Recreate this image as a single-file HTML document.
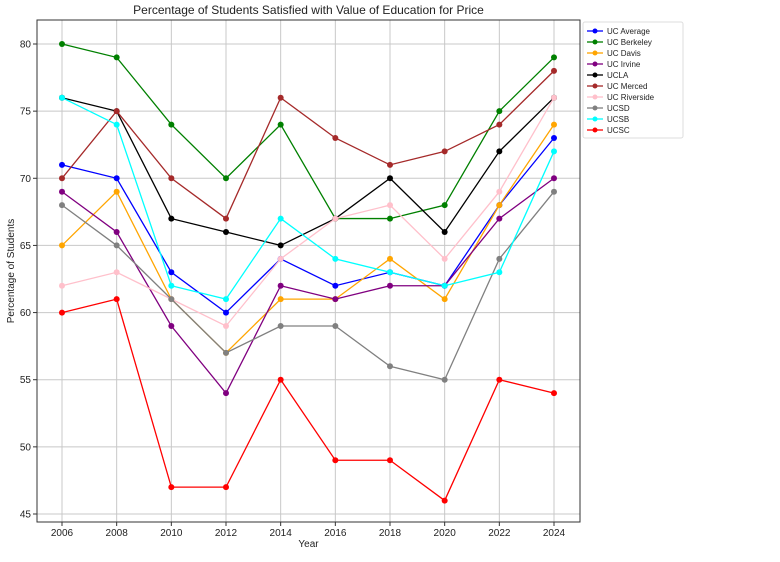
<!DOCTYPE html>
<html><head><meta charset="utf-8"><style>
body{margin:0;background:#fff;font-family:"Liberation Sans",sans-serif;}
svg text{font-family:"Liberation Sans",sans-serif;fill:#222;}
</style></head><body>
<svg id="chart" width="780" height="557"></svg>
<script>
const years=[2006,2008,2010,2012,2014,2016,2018,2020,2022,2024];
const yTicks=[45,50,55,60,65,70,75,80];
const seriesNames=["UC Average","UC Berkeley","UC Davis","UC Irvine","UCLA","UC Merced","UC Riverside","UCSD","UCSB","UCSC"];
const seriesColors=["#0000ff","#008000","#ffa500","#800080","#000000","#a52a2a","#ffc0cb","#808080","#00ffff","#ff0000"];
const ucAverage=[71,70,63,60,64,62,63,62,68,73];
const ucBerkeley=[80,79,74,70,74,67,67,68,75,79];
const ucDavis=[65,69,61,57,61,61,64,61,68,74];
const ucIrvine=[69,66,59,54,62,61,62,62,67,70];
const ucla=[76,75,67,66,65,67,70,66,72,76];
const ucMerced=[70,75,70,67,76,73,71,72,74,78];
const ucRiverside=[62,63,61,59,64,67,68,64,69,76];
const ucsd=[68,65,61,57,59,59,56,55,64,69];
const ucsb=[76,74,62,61,67,64,63,62,63,72];
const ucsc=[60,61,47,47,55,49,49,46,55,54];
const allSeries=[ucAverage,ucBerkeley,ucDavis,ucIrvine,ucla,ucMerced,ucRiverside,ucsd,ucsb,ucsc];

const svg=document.getElementById('chart');
const NS='http://www.w3.org/2000/svg';
function mk(t,a,p){const e=document.createElementNS(NS,t);for(const k in a)e.setAttribute(k,a[k]);(p||svg).appendChild(e);return e;}
const L=37,R=580,T=20,B=522;
const x=v=>62+(v-2006)*(554-62)/18;
const y=v=>44+(80-v)*(514-44)/35;

const grid=mk('g',{});


years.forEach(v=>{mk('line',{x1:x(v),x2:x(v),y1:T,y2:B,stroke:'#c8c8c8','stroke-width':1},grid);
 const t=mk('text',{x:x(v),y:B+14,'font-size':10,'text-anchor':'middle'});t.textContent=v;
 
 mk('line',{x1:x(v),x2:x(v),y1:B,y2:B+4,stroke:'#333'});});
yTicks.forEach(v=>{mk('line',{x1:L,x2:R,y1:y(v),y2:y(v),stroke:'#c8c8c8','stroke-width':1},grid);
 const t=mk('text',{x:L-6,y:y(v)+3.5,'font-size':10,'text-anchor':'end'});t.textContent=v;
 
 mk('line',{x1:L-4,x2:L,y1:y(v),y2:y(v),stroke:'#333'});});
const frame=mk('rect',{x:L,y:T,width:R-L,height:B-T,fill:'none',stroke:'#333','stroke-width':1});


allSeries.forEach((s,i)=>{
 const g=mk('g',{});
 
 
 mk('polyline',{points:s.map((v,j)=>x(years[j])+','+y(v)).join(' '),fill:'none',stroke:seriesColors[i],'stroke-width':1.3},g);
 s.forEach((v,j)=>{const c=mk('circle',{cx:x(years[j]),cy:y(v),r:3,fill:seriesColors[i]},g);
  });
});

const title=mk('text',{x:(L+R)/2,y:14,'font-size':12,'text-anchor':'middle'});title.textContent='Percentage of Students Satisfied with Value of Education for Price';

const xt=mk('text',{x:(L+R)/2,y:547,'font-size':10,'text-anchor':'middle'});xt.textContent='Year';

const yt=mk('text',{x:14,y:(T+B)/2,'font-size':10,'text-anchor':'middle',transform:'rotate(-90 14 '+((T+B)/2)+')'});yt.textContent='Percentage of Students';


const lg=mk('g',{});

mk('rect',{x:583,y:22,width:100,height:116,fill:'#fff',stroke:'#ddd',rx:2},lg);
seriesNames.forEach((n,i)=>{const yy=31+i*11;
 const e=mk('g',{},lg);
 mk('line',{x1:587,x2:603,y1:yy,y2:yy,stroke:seriesColors[i],'stroke-width':1.3},e);
 mk('circle',{cx:595,cy:yy,r:2.5,fill:seriesColors[i]},e);
 const t=mk('text',{x:607,y:yy+3,'font-size':8},e);t.textContent=n;});
</script>
</body></html>
